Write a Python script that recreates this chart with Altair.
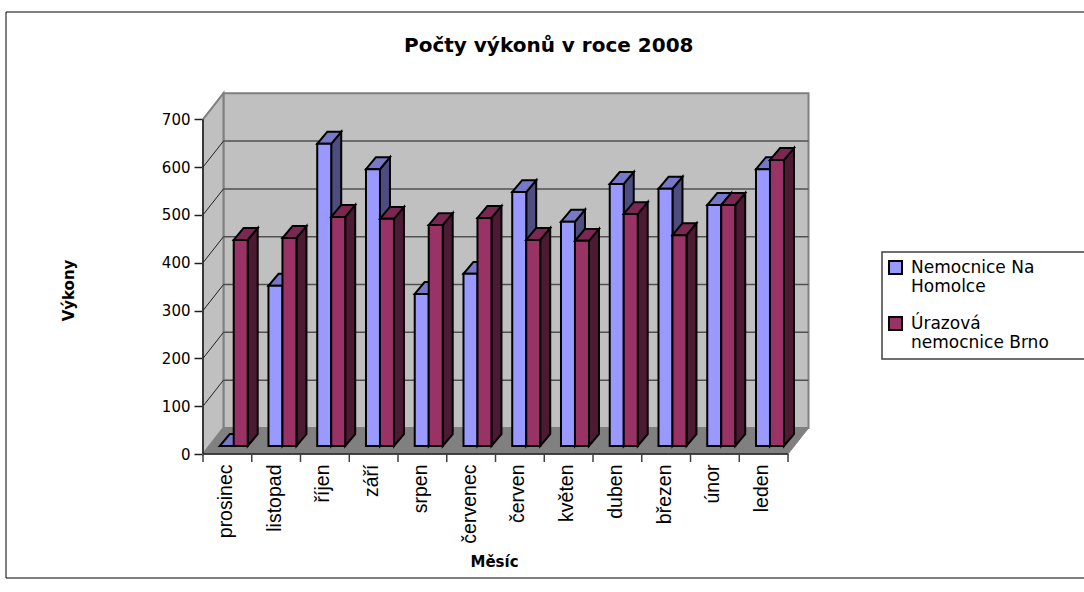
import altair as alt
import pandas as pd

months = ["prosinec", "listopad", "říjen", "září", "srpen", "červenec",
          "červen", "květen", "duben", "březen", "únor", "leden"]
homolka = [0, 335, 632, 579, 318, 360, 531, 469, 548, 538, 504, 579]
uraz = [431, 435, 479, 475, 462, 477, 431, 429, 485, 441, 504, 598]
series_names = ["Nemocnice Na Homolce", "Úrazová nemocnice Brno"]
y_ticks = [0, 100, 200, 300, 400, 500, 600, 700]
x_title = "Měsíc"
y_title = "Výkony"

# Oblique projection of the chart box, in axis units
DX, DY = 0.42, 54.4          # full box depth
BAR_DX, BAR_DY = 0.205, 25.0 # bar depth
FRONT_DX, FRONT_DY = 0.13, 16.7  # distance of the bars from the front of the floor
BAR_W = 0.287
GAP = 0.213
n = len(months)

FONT = "DejaVu Sans"
x_scale = alt.Scale(domain=[0, n + DX], nice=False, zero=False)
y_scale = alt.Scale(domain=[0, 757], nice=False, zero=False)

X = lambda f: alt.X(f, type="quantitative", scale=x_scale, title=x_title)
Y = lambda f: alt.Y(f, type="quantitative", scale=y_scale, title=y_title)


def bar_tables(values, shift):
    front, side, top = [], [], []
    for i, v in enumerate(values):
        x0 = i + GAP + FRONT_DX + shift * BAR_W
        x1 = x0 + BAR_W
        y0 = FRONT_DY
        y1 = FRONT_DY + v
        front.append(dict(x=x0, x2=x1, y=y1, y2=y0))
        side += [dict(b=i, x=x1, y=y1, y2=y0),
                 dict(b=i, x=x1 + BAR_DX, y=y1 + BAR_DY, y2=y0 + BAR_DY)]
        top += [dict(b=i, x=x0, x2=x1, y=y1),
                dict(b=i, x=x0 + BAR_DX, x2=x1 + BAR_DX, y=y1 + BAR_DY)]
    return pd.DataFrame(front), pd.DataFrame(side), pd.DataFrame(top)


# Box: back wall, left wall, floor
back = alt.Chart(pd.DataFrame([dict(x=DX, x2=n + DX, y=DY, y2=700 + DY)])).mark_rect(
    fill="#c0c0c0", stroke="#808080", strokeWidth=2
).encode(x=X("x"), x2="x2", y=Y("y"), y2="y2")

left = alt.Chart(pd.DataFrame([dict(x=0, y=0, y2=700), dict(x=DX, y=DY, y2=700 + DY)])).mark_area(
    fill="#c0c0c0", stroke="#808080", strokeWidth=2, orient="vertical"
).encode(x=X("x"), y=Y("y"), y2="y2")

floor = alt.Chart(pd.DataFrame([dict(x=0, x2=n, y=0), dict(x=DX, x2=n + DX, y=DY)])).mark_area(
    fill="#808080", stroke="#808080", strokeWidth=1, orient="horizontal"
).encode(x=X("x"), x2="x2", y=Y("y"))

grid_vals = y_ticks[1:-1]
grid_back = alt.Chart(pd.DataFrame([dict(x=DX, x2=n + DX, y=v + DY) for v in grid_vals])).mark_rule(
    color="#505050", strokeWidth=1.5
).encode(x=X("x"), x2="x2", y=Y("y"))

grid_left = alt.Chart(pd.DataFrame(
    [r for v in grid_vals for r in (dict(v=v, x=0, y=v), dict(v=v, x=DX, y=v + DY))]
)).mark_line(color="#202020", strokeWidth=1).encode(x=X("x"), y=Y("y"), detail="v:N")

axis_y_line = alt.Chart(pd.DataFrame([dict(x=0, y=0, y2=700)])).mark_rule(
    color="#202020", strokeWidth=1.5
).encode(x=X("x"), y=Y("y"), y2="y2")

axis_x_line = alt.Chart(pd.DataFrame([dict(x=0, x2=n, y=0)])).mark_rule(
    color="#202020", strokeWidth=1.5
).encode(x=X("x"), x2="x2", y=Y("y"))

x_ticks = alt.Chart(pd.DataFrame({"x": list(range(n + 1))})).mark_rule(
    color="#404040", strokeWidth=1.5
).encode(x=X("x"), y=alt.value(362), y2=alt.value(370))

# Axes: month names sit between the tick marks, values on the front left edge
label_expr = "[" + ",".join(f"'{m}'" for m in months) + "][floor(datum.value)]"
axes = alt.Chart(pd.DataFrame({"x": [0.0], "y": [0.0]})).mark_point(opacity=0).encode(
    x=alt.X("x:Q", scale=x_scale, title=x_title, axis=alt.Axis(
        values=[i + 0.5 for i in range(n)], labelExpr=label_expr, ticks=False, domain=False,
        grid=False, labelAngle=270, labelAlign="right", labelBaseline="middle", labelOffset=-2,
        labelFont="Liberation Sans", labelFontSize=19.5, labelColor="black", labelPadding=10,
        labelOverlap=False, labelBound=False, labelFlush=False,
        titleFont=FONT, titleFontSize=15, titleFontWeight="bold", titleColor="black",
        titleX=291, titleY=107, titleBaseline="middle", titleAlign="center")),
    y=alt.Y("y:Q", scale=y_scale, title=y_title, axis=alt.Axis(
        values=y_ticks, domain=False, grid=False, tickColor="#202020", tickSize=9, tickWidth=1.5,
        labelFont=FONT, labelFontSize=15, labelColor="black", labelPadding=4,
        labelOverlap=False, labelBound=False, labelFlush=False,
        titleFont=FONT, titleFontSize=15, titleFontWeight="bold", titleColor="black",
        titleX=-135, titleY=198, titleAngle=270, titleBaseline="middle", titleAlign="center")),
)

color = alt.Color("s:N", scale=alt.Scale(domain=series_names, range=["#9999ff", "#993366"]), legend=alt.Legend(
    orient="none", legendX=684, legendY=167, title=None, symbolType="square", symbolSize=170,
    symbolStrokeColor="black", symbolStrokeWidth=2, symbolOpacity=1,
    labelFont=FONT, labelFontSize=17, labelColor="black", labelLimit=250, labelOffset=7,
    rowPadding=17, padding=0,
    labelExpr="datum.label == 'Nemocnice Na Homolce' ? ['Nemocnice Na', 'Homolce'] : ['Úrazová', 'nemocnice Brno']",
))


def bars(values, shift, name, top_fill, side_fill):
    front, side, top = bar_tables(values, shift)
    front["s"] = name
    side_l = alt.Chart(side).mark_area(
        fill=side_fill, stroke="black", strokeWidth=2, orient="vertical"
    ).encode(x=X("x"), y=Y("y"), y2="y2", detail="b:N")
    top_l = alt.Chart(top).mark_area(
        fill=top_fill, stroke="black", strokeWidth=2, orient="horizontal"
    ).encode(x=X("x"), x2="x2", y=Y("y"), detail="b:N")
    front_l = alt.Chart(front).mark_rect(stroke="black", strokeWidth=2, opacity=1).encode(
        x=X("x"), x2="x2", y=Y("y"), y2="y2", color=color
    )
    return [side_l, top_l, front_l]


# Frame of the whole chart and of the legend, both running off the right edge
frame = alt.Chart(pd.DataFrame({"a": [0]})).mark_rect(
    fill="white", fillOpacity=0, stroke="black", strokeWidth=1, clip=False
).encode(x=alt.value(-197), x2=alt.value(900), y=alt.value(-80), y2=alt.value(486))
legend_box = alt.Chart(pd.DataFrame({"a": [0]})).mark_rect(
    fill="white", fillOpacity=0, stroke="#404040", strokeWidth=1.5, clip=False
).encode(x=alt.value(679), x2=alt.value(900), y=alt.value(160), y2=alt.value(267))

layers = [frame, legend_box, back, left, floor, grid_back, grid_left, axes]
layers += bars(homolka, 0, series_names[0], "#7878c8", "#4d4d80")
layers += bars(uraz, 1, series_names[1], "#7a2852", "#4d1a33")
layers += [axis_y_line, axis_x_line, x_ticks]

chart = alt.layer(*layers).properties(
    width=605.5, height=362,
    title=alt.TitleParams(
        "Počty výkonů v roce 2008", font=FONT, fontSize=20, fontWeight="bold", color="black",
        anchor="middle", dx=43, dy=44, offset=0),
    autosize=alt.AutoSizeParams(type="none"),
    padding={"left": 203, "top": 92, "right": 275.5, "bottom": 138},
    background="white",
).configure_view(stroke=None)

chart.save("out.html", embed_options={"renderer": "svg", "actions": False})
